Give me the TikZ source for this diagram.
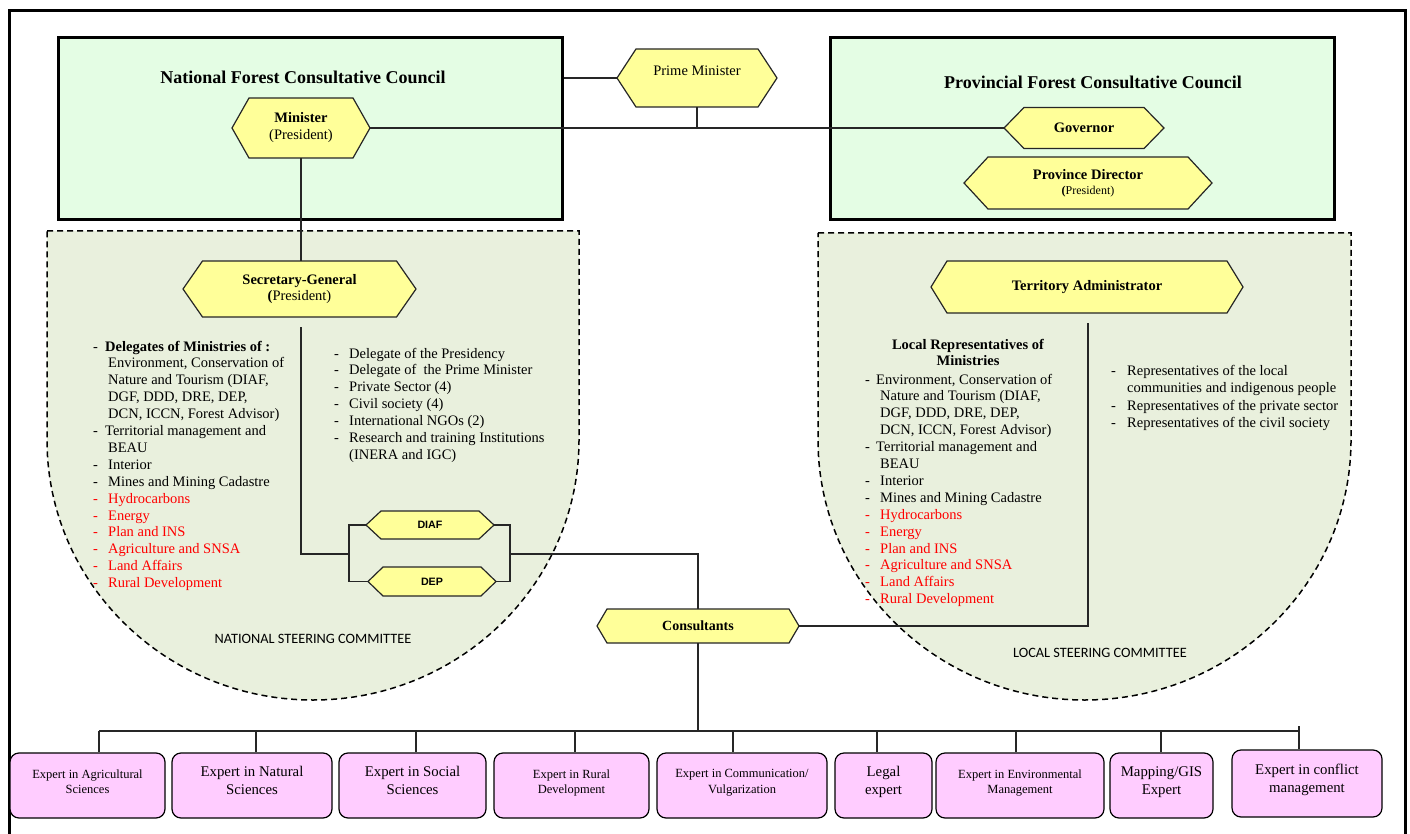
\documentclass[tikz,border=0pt]{standalone}
\usepackage{fontspec}
\setmainfont{Liberation Serif}
\newfontfamily\califont{Carlito}
\newfontfamily\arifont{Liberation Sans}
\definecolor{hexyellow}{RGB}{255,255,153}
\definecolor{councilgreen}{RGB}{228,253,228}
\definecolor{committeegreen}{RGB}{233,240,221}
\definecolor{expertpink}{RGB}{255,204,255}
\definecolor{redtext}{RGB}{255,0,0}
\newcommand\fsz[2]{\fontsize{#1}{#2}\selectfont}
\newcommand\redt[1]{\textcolor{redtext}{#1}}
\newcommand\upl{\\[-8pt]\mbox{}}
% name, cx, cy, half width, half height, point depth, text
\newcommand\hexa[7]{%
  \filldraw[hexshape] (#2-#4,#3) -- (#2-#4+#6,#3-#5) -- (#2+#4-#6,#3-#5) -- (#2+#4,#3)
     -- (#2+#4-#6,#3+#5) -- (#2-#4+#6,#3+#5) -- cycle;
  \node[hexlabel, minimum width={2*#4}, minimum height={2*#5}] (#1) at (#2,#3) {#7};}
\tikzset{
  conn/.style={line width=1.3pt, draw=black!85},
  council/.style={draw=black, line width=3pt, fill=councilgreen, inner sep=0pt},
  committee/.style={draw=black, line width=1.5pt, dash pattern=on 6pt off 4pt, fill=committeegreen},
  hexshape/.style={draw=black!85, line width=1.2pt, fill=hexyellow},
  hexlabel/.style={inner sep=0pt, align=center, font=\fsz{14.5}{17}},
  expert/.style={draw=black, line width=1.2pt, fill=expertpink, rounded corners=9pt, align=center, inner sep=0pt},
  listtxt/.style={inner sep=0pt, anchor=base west, font=\fsz{14.5}{16.9}},
  cmtlabel/.style={font=\califont\fsz{14.3}{16}, inner sep=0pt},
  titletxt/.style={font=\bfseries\fsz{18}{20}, inner sep=0pt}
}
\begin{document}
\begin{tikzpicture}[x=1pt,y=-1pt]
\useasboundingbox (0,0) rectangle (1410,834);
\fill[white] (0,0) rectangle (1410,834);
\draw[line width=3pt] (9,11) rectangle (1405,850);

% councils
\node[council, minimum width=504, minimum height=182] (natbox) at (310,129) {};
\node[titletxt] (nattitle) at (303,77) {National Forest Consultative Council};
\node[council, minimum width=504, minimum height=182] (provbox) at (1082,129) {};
\node[titletxt] (provtitle) at (1093,82) {Provincial Forest Consultative Council};

% steering committees
\draw[committee] (47,231) -- (579,231) -- (579,440)
   arc[start angle=0, end angle=180, x radius=266, y radius=260] -- cycle;
\draw[committee] (818,233) -- (1351,233) -- (1351,440)
   arc[start angle=0, end angle=180, x radius=266.5, y radius=260] -- cycle;

% connectors (drawn before hexagons)
\coordinate (natsplit) at (301,327);
\coordinate (brL) at (349,554);
\coordinate (brR) at (510,554);
\coordinate (locsplit) at (1088,323);
\coordinate (busL) at (99,731);
\coordinate (busR) at (1299,731);

% hexagons
\hexa{pm}{697}{78}{80}{29}{19}{Prime Minister\\[-3pt]\mbox{}}
\hexa{min}{301}{128}{69}{30}{17}{\textbf{Minister}\\(President)}
\hexa{gov}{1084}{128}{80}{20.5}{20}{\textbf{Governor}}
\hexa{pdir}{1088}{183}{124}{26}{24}{\textbf{Province Director}\\[-2pt]{\fsz{12}{14}\textbf{(}President)}}
\hexa{sg}{299.5}{289}{116.5}{28}{19.5}{\textbf{Secretary-General}\\[-1pt]\textbf{(}President)}
\hexa{ta}{1087}{287}{156}{26}{16}{\textbf{Territory Administrator}}
\hexa{diaf}{430}{525}{64}{14}{15}{\arifont\bfseries\fsz{10.7}{12}DIAF}
\hexa{dep}{432}{581.5}{64}{14.5}{15}{\arifont\bfseries\fsz{10.7}{12}DEP}
\hexa{cons}{698}{626}{101}{17}{10}{\fsz{14}{16}\textbf{Consultants}}

\draw[conn] (pm.west -| natbox.east) -- (pm.west);
\draw[conn] (min.east) -- (gov.west);
\draw[conn] (pm.south) -- (pm.south |- min.east);
\draw[conn] (min.south) -- (min.south |- sg.north);
\draw[conn] (natsplit) |- (brL);
\draw[conn] (diaf.west) -| (brL) |- (dep.west);
\draw[conn] (diaf.east) -| (brR) |- (dep.east);
\draw[conn] (brR) -| (cons.north);
\draw[conn] (cons.east) -| (locsplit);

% national committee texts
\node[listtxt] (natleft) at (93,351) {\begin{tabular}[t]{@{}p{15pt}@{}l@{}}
- & \hspace{-3pt}\textbf{Delegates of Ministries of :}\\
  & Environment, Conservation of\\
  & Nature and Tourism (DIAF,\\
  & DGF, DDD, DRE, DEP,\\
  & DCN, ICCN, Forest Advisor)\\
- & \hspace{-3pt}Territorial management and\\
  & BEAU\\
- & Interior\\
- & Mines and Mining Cadastre\\
\redt{-} & \redt{Hydrocarbons}\\
\redt{-} & \redt{Energy}\\
\redt{-} & \redt{Plan and INS}\\
\redt{-} & \redt{Agriculture and SNSA}\\
\redt{-} & \redt{Land Affairs}\\
\redt{-} & \redt{Rural Development}
\end{tabular}};
\node[listtxt] (natright) at (334,358) {\begin{tabular}[t]{@{}p{15pt}@{}l@{}}
- & Delegate of the Presidency\\
- & Delegate of\ \ the Prime Minister\\
- & Private Sector (4)\\
- & Civil society (4)\\
- & International NGOs (2)\\
- & Research and training Institutions\\
  & (INERA and IGC)
\end{tabular}};
\node[cmtlabel] (natlbl) at (313,639) {NATIONAL STEERING COMMITTEE};

% local committee texts
\node[font=\bfseries\fsz{14.5}{16}, align=center, inner sep=0pt] (lochead) at (968,352) {Local Representatives of\\Ministries};
\node[listtxt] (locleft) at (865,384) {\begin{tabular}[t]{@{}p{15pt}@{}l@{}}
- & \hspace{-4pt}Environment, Conservation of\\
  & Nature and Tourism (DIAF,\\
  & DGF, DDD, DRE, DEP,\\
  & DCN, ICCN, Forest Advisor)\\
- & \hspace{-4pt}Territorial management and\\
  & BEAU\\
- & Interior\\
- & Mines and Mining Cadastre\\
\redt{-} & \redt{Hydrocarbons}\\
\redt{-} & \redt{Energy}\\
\redt{-} & \redt{Plan and INS}\\
\redt{-} & \redt{Agriculture and SNSA}\\
\redt{-} & \redt{Land Affairs}\\
\redt{-} & \redt{Rural Development}
\end{tabular}};
\node[listtxt, font=\fsz{14.5}{17.6}] (locright) at (1111,375) {\begin{tabular}[t]{@{}p{16pt}@{}l@{}}
- & Representatives of the local\\
  & communities and indigenous people\\
- & Representatives of the private sector\\
- & Representatives of the civil society
\end{tabular}};
\node[cmtlabel] (loclbl) at (1100,653) {LOCAL STEERING COMMITTEE};

% experts
\node[expert, minimum width=155, minimum height=65, font=\fsz{12.5}{15.7}] (e1) at (87.5,785.5) {Expert in Agricultural\\Sciences\upl};
\node[expert, minimum width=160, minimum height=65, font=\fsz{14.8}{18}] (e2) at (252,785.5) {Expert in Natural\\Sciences\upl};
\node[expert, minimum width=147, minimum height=65, font=\fsz{14.8}{18}] (e3) at (412.5,785.5) {Expert in Social\\Sciences\upl};
\node[expert, minimum width=155, minimum height=65, font=\fsz{12.5}{15.7}] (e4) at (571.5,785.5) {Expert in Rural\\Development\upl};
\node[expert, minimum width=170, minimum height=65, font=\fsz{12.5}{15.7}] (e5) at (742,785.5) {Expert in Communication/\\Vulgarization\upl};
\node[expert, minimum width=97, minimum height=65, font=\fsz{14.8}{18}] (e6) at (883.5,785.5) {Legal\\expert\upl};
\node[expert, minimum width=168, minimum height=65, font=\fsz{12.5}{15.7}] (e7) at (1020,785.5) {Expert in Environmental\\Management\upl};
\node[expert, minimum width=103, minimum height=65, font=\fsz{14.8}{18}] (e8) at (1161.5,785.5) {Mapping/GIS\\Expert\upl};
\node[expert, minimum width=150, minimum height=67, font=\fsz{14.8}{18}] (e9) at (1307,783.5) {Expert in conflict\\management\upl};

% consultants bus
\coordinate (d2) at (256,731);
\coordinate (d3) at (416,731);
\coordinate (d4) at (575,731);
\coordinate (d5) at (733,731);
\coordinate (d6) at (877,731);
\coordinate (d7) at (1016,731);
\coordinate (d8) at (1161,731);
\coordinate (d9) at (1299,726);
\draw[conn] (cons.south) -- (cons.south |- busL);
\draw[conn] (busL) -- (busR);
\draw[conn] (busL) -- (busL |- e1.north);
\draw[conn] (d2) -- (d2 |- e2.north);
\draw[conn] (d3) -- (d3 |- e3.north);
\draw[conn] (d4) -- (d4 |- e4.north);
\draw[conn] (d5) -- (d5 |- e5.north);
\draw[conn] (d6) -- (d6 |- e6.north);
\draw[conn] (d7) -- (d7 |- e7.north);
\draw[conn] (d8) -- (d8 |- e8.north);
\draw[conn] (d9) -- (d9 |- e9.north);
\end{tikzpicture}
\end{document}
